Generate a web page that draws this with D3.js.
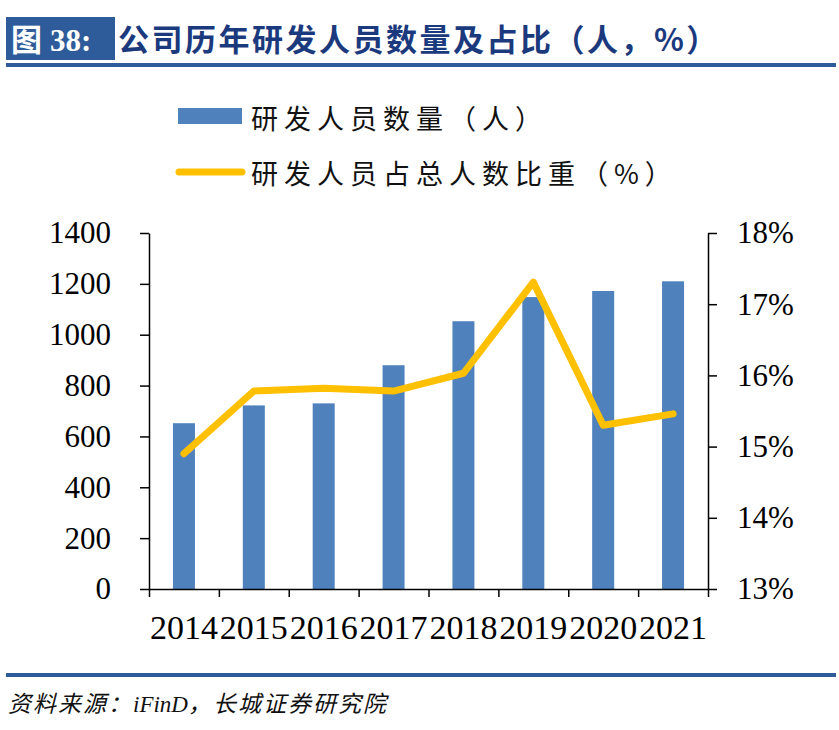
<!DOCTYPE html>
<html>
<head>
<meta charset="utf-8">
<script src="https://cdn.jsdelivr.net/npm/d3@7"></script>
<style>
  html, body { margin: 0; padding: 0; background: #fff; }
  svg { display: block; }
</style>
</head>
<body>
<div class="container"></div>
<script>
// chart data
const years = ["2014", "2015", "2016", "2017", "2018", "2019", "2020", "2021"];
// number of R&D staff (people)
const staff = [652, 722, 730, 880, 1053, 1148, 1172, 1210];
// share of R&D staff in total headcount (%)
const share = [14.90, 15.78, 15.82, 15.78, 16.03, 17.31, 15.30, 15.46];
// tick labels
const leftTicks = [0, 200, 400, 600, 800, 1000, 1200, 1400];
const rightTicks = [13, 14, 15, 16, 17, 18];

const w = 839;
const h = 730;
const blue = "#2E5C9A";
const barColor = "#4F81BD";
const lineColor = "#FFC000";
const serif = "'Liberation Serif', 'Times New Roman', serif";
const cjk = "'Noto Sans CJK SC', 'Noto Sans', sans-serif";

const svg = d3.select(".container")
    .append("svg")
    .attr("width", w)
    .attr("height", h)
    .attr("viewBox", `0 0 ${w} ${h}`);

/* header */
svg.append("rect")
    .attr("x", 6).attr("y", 17)
    .attr("width", 109).attr("height", 43)
    .attr("fill", blue);

const tag = svg.append("text")
    .attr("x", 11).attr("y", 51)
    .attr("fill", "#fff")
    .attr("font-size", 31)
    .attr("font-weight", "bold");
tag.append("tspan").attr("font-family", cjk).text("图");
tag.append("tspan").attr("font-family", serif).attr("dx", 8).text("38:");

svg.append("text")
    .attr("x", 118).attr("y", 51)
    .attr("fill", "#1B3A7E")
    .attr("font-family", cjk)
    .attr("font-weight", "bold")
    .attr("font-size", 31)
    .attr("letter-spacing", 2.5)
    .text("公司历年研发人员数量及占比（人，%）");

svg.append("rect")
    .attr("x", 6).attr("y", 63)
    .attr("width", 830).attr("height", 4)
    .attr("fill", blue);

/* legend */
const legend = svg.append("g").attr("font-family", cjk).attr("font-size", 27)
    .attr("letter-spacing", 6).attr("fill", "#111");

legend.append("rect")
    .attr("x", 178).attr("y", 108)
    .attr("width", 64).attr("height", 16)
    .attr("fill", barColor);
legend.append("text")
    .attr("x", 251).attr("y", 117)
    .attr("dominant-baseline", "central")
    .text("研发人员数量（人）");

legend.append("line")
    .attr("x1", 179).attr("x2", 242)
    .attr("y1", 172).attr("y2", 172)
    .attr("stroke", lineColor)
    .attr("stroke-width", 7)
    .attr("stroke-linecap", "round");
legend.append("text")
    .attr("x", 251).attr("y", 172)
    .attr("dominant-baseline", "central")
    .text("研发人员占总人数比重（%）");

/* scales */
const plotLeft = 149, plotRight = 708, plotTop = 233, plotBottom = 589;

const xScale = d3.scaleBand()
    .domain(years)
    .range([plotLeft, plotRight])
    .padding(0);

// linear helper to place tick marks on the category boundaries
const xEdges = d3.scaleLinear()
    .domain([0, years.length])
    .range([plotLeft, plotRight]);

const yLeft = d3.scaleLinear()
    .domain([0, 1400])
    .range([plotBottom, plotTop]);

const yRight = d3.scaleLinear()
    .domain([13, 18])
    .range([plotBottom, plotTop]);

/* bars */
const barW = xScale.bandwidth() * 0.315;
svg.append("g")
    .selectAll("rect")
    .data(years)
    .enter()
    .append("rect")
    .attr("x", (d) => xScale(d) + (xScale.bandwidth() - barW) / 2)
    .attr("y", (d, i) => yLeft(staff[i]))
    .attr("width", barW)
    .attr("height", (d, i) => plotBottom - yLeft(staff[i]))
    .attr("fill", barColor);

/* axes */
function styleAxis(g, size) {
    g.select(".domain").attr("stroke", "#000").attr("stroke-width", 1.5);
    g.selectAll(".tick line").attr("stroke", "#000").attr("stroke-width", 1.5);
    g.selectAll("text")
        .attr("font-family", serif)
        .attr("font-size", size)
        .attr("fill", "#000");
}

svg.append("g")
    .attr("transform", `translate(${plotLeft}, 0)`)
    .call(d3.axisLeft(yLeft).tickValues(leftTicks).tickSize(9).tickSizeOuter(0).tickPadding(29)
        .tickFormat(d3.format("d")))
    .call((g) => styleAxis(g, 31));

svg.append("g")
    .attr("transform", `translate(${plotRight}, 0)`)
    .call(d3.axisRight(yRight).tickValues(rightTicks).tickSize(9).tickSizeOuter(0).tickPadding(20)
        .tickFormat((d) => d + "%"))
    .call((g) => styleAxis(g, 31));

// tick marks at the category boundaries
svg.append("g")
    .attr("transform", `translate(0, ${plotBottom})`)
    .call(d3.axisBottom(xEdges).tickValues(d3.range(years.length + 1)).tickSize(8)
        .tickSizeOuter(0).tickFormat(""))
    .call((g) => styleAxis(g, 32));

// category labels
svg.append("g")
    .attr("transform", `translate(0, ${plotBottom})`)
    .call(d3.axisBottom(xScale).tickSize(0).tickPadding(26))
    .call((g) => g.select(".domain").remove())
    .call((g) => styleAxis(g, 34));

/* line */
const line = d3.line()
    .x((d, i) => xScale(years[i]) + xScale.bandwidth() / 2)
    .y((d) => yRight(d));

svg.append("path")
    .datum(share)
    .attr("d", line)
    .attr("fill", "none")
    .attr("stroke", lineColor)
    .attr("stroke-width", 7)
    .attr("stroke-linecap", "round")
    .attr("stroke-linejoin", "round");

/* footer */
svg.append("rect")
    .attr("x", 6).attr("y", 673)
    .attr("width", 830).attr("height", 4)
    .attr("fill", blue);

const src = svg.append("text")
    .attr("x", 8).attr("y", 712)
    .attr("font-size", 23)
    .attr("font-style", "italic")
    .attr("fill", "#111");
src.append("tspan").attr("font-family", cjk).attr("letter-spacing", 2).text("资料来源：");
src.append("tspan").attr("font-family", serif).text("iFinD");
src.append("tspan").attr("font-family", cjk).attr("letter-spacing", 2).text("，长城证券研究院");
</script>
</body>
</html>
